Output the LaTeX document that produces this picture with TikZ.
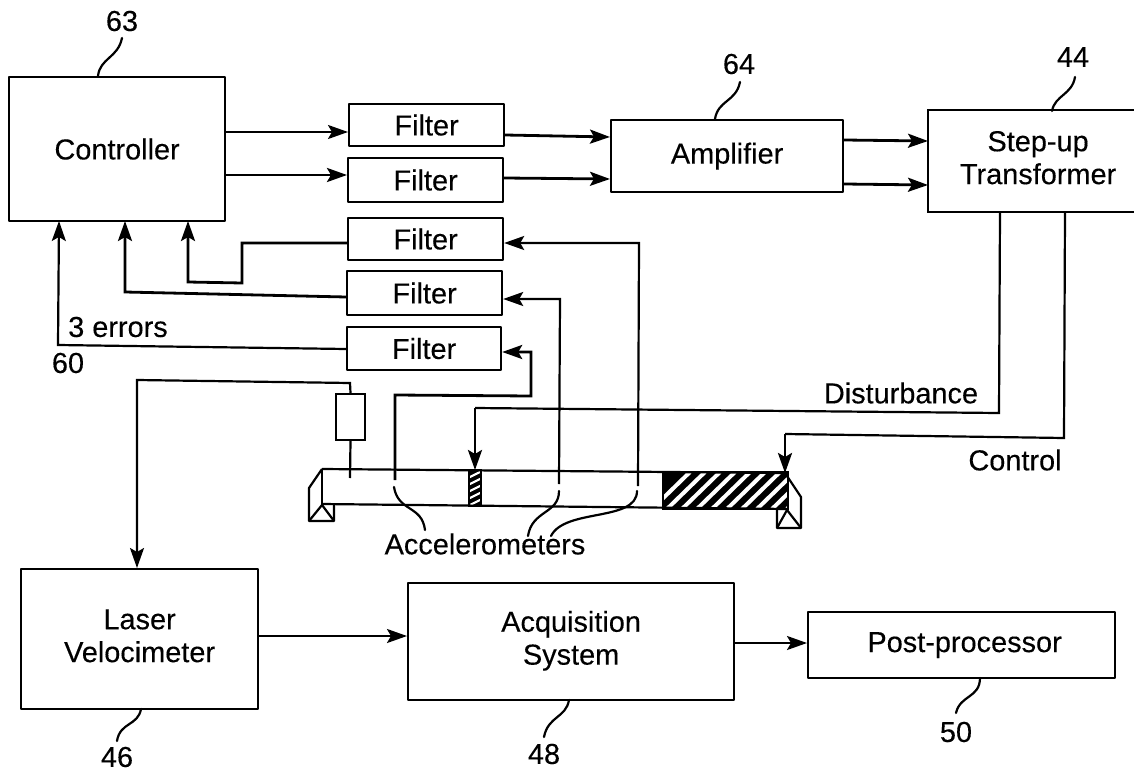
\documentclass[tikz,border=0pt]{standalone}
\usepackage{fontspec}
\setmainfont[FakeBold=0.25]{Liberation Sans}
\usetikzlibrary{arrows.meta}
\tikzset{
  tip/.style={-{Stealth[length=20bp,width=14bp,inset=4bp]}},
  box/.style={draw,line width=2.2bp,line join=round,anchor=north west,inner sep=0pt,align=center,font=\fontsize{29}{33}\selectfont},
  lbl/.style={inner sep=0pt,font=\fontsize{29}{33}\selectfont},
  wire/.style={line width=2.2bp},
  thickwire/.style={line width=2.8bp},
  lead/.style={line width=2.2bp,line cap=round},
}
\newcommand{\bx}[7][box]{\node[#1,minimum width=#5*1bp-#3*1bp,minimum height=#6*1bp-#4*1bp] (#2) at (#3,#4) {#7};}
\begin{document}
\begin{tikzpicture}[x=1bp,y=-1bp]
\useasboundingbox[fill=white] (0,0) rectangle (1134,773);
\bx{ctrl}{8}{76}{224}{220}{Controller}
\bx{fa}{348}{103}{503}{145}{Filter}
\bx{fb}{347}{157}{502}{201}{Filter}
\bx{fc}{347}{217}{502}{259}{Filter}
\bx{fd}{346}{270}{501}{314}{Filter}
\bx{fe}{346}{326}{500}{369}{Filter}
\bx{amp}{610}{119}{842}{191}{Amplifier}
\bx[box,draw=none]{tra}{928}{110}{1134}{210}{\hspace*{12bp}\begin{tabular}{@{}c@{}}Step-up\\Transformer\end{tabular}}
\draw[wire] (tra.north east) -- (tra.north west) -- (tra.south west) -- (tra.south east);
\bx{las}{20}{568}{257}{708}{\raisebox{7bp}{\begin{tabular}{@{}c@{}}Laser\\Velocimeter\end{tabular}}}
\bx{acq}{407}{582}{733}{699}{\raisebox{6bp}{\begin{tabular}{@{}c@{}}Acquisition\\System\end{tabular}}}
\bx{post}{807}{611}{1114}{677}{\hspace*{6bp}\raisebox{2bp}{Post-processor}}
% sensor box
\node[draw,line width=2bp,anchor=north west,minimum width=29bp,minimum height=46bp,inner sep=0pt] (sens) at (335,393) {};
% labels
\node[lbl] (n63) at (122,21) {63};
\node[lbl] (n64) at (739,64) {64};
\node[lbl] (n44) at (1073,57) {44};
\node[lbl] (n46) at (117,757) {46};
\node[lbl] (n48) at (544,754) {48};
\node[lbl] (n50) at (956,732) {50};
\node[lbl] (n60) at (68,363) {60};
\node[lbl] (err) at (118,327) {3 errors};
\node[lbl] (dist) at (901,393) {Disturbance};
\node[lbl] (ctl) at (1015,460) {Control};
\node[lbl] (acc) at (485,544) {Accelerometers};
% beam
\coordinate (bTL) at (322,469);
\coordinate (bTR) at (785,473);
\coordinate (bBL) at (322,504);
\coordinate (bBR) at (788,509);
% hatched regions
\begin{scope}
\clip (663,472) rectangle (788,509);
\fill (663,472) rectangle (788,509);
\foreach \i in {0,...,11} \draw[white,line width=4bp] ({652+\i*15},509) -- ({690+\i*15},472);
\end{scope}
\draw[line width=2.2bp] (663,472) rectangle (788,509);
\begin{scope}
\clip (469,470) rectangle (481,506);
\fill (469,470) rectangle (481,506);
\foreach \i in {0,...,5} \draw[white,line width=2.2bp] (466,{479+\i*7}) -- (484,{470+\i*7});
\end{scope}
\draw[line width=2bp] (469,470) rectangle (481,506);
\draw[wire] (bTL) -- (bTR) (bBL) -- (bBR);
% supports
\draw[wire,line join=round] (bTL) -- (309,488) -- (309,521) -- (334,521) -- (334,505);
\draw[wire] (bTL) -- (bBL);
\draw[wire] (309,521) -- (322,505) -- (334,521);
\draw[wire,line join=round] (bTR) -- (801,497) -- (801,528) -- (777,528) -- (777,509);
\draw[wire] (777,528) -- (787,510) -- (801,528);
% forward arrows
\draw[wire,tip] (ctrl.east |- 0,132) -- (fa.west |- 0,132);
\draw[thickwire,tip] (ctrl.east |- 0,175) -- (fb.west |- 0,175);
\draw[thickwire,tip] (fa.east |- 0,135) -- (amp.west |- 0,137);
\draw[thickwire,tip] (fb.east |- 0,178) -- (amp.west |- 0,179);
\draw[thickwire,tip] (amp.east |- 0,140) -- (tra.west |- 0,141);
\draw[thickwire,tip] (amp.east |- 0,184) -- (tra.west |- 0,185);
% feedback
\draw[thickwire,tip] (fc.west |- 0,243) -- (242,243) -- (242,283) -- (188,282) -- (188,221);
\draw[thickwire,tip] (fd.west |- 0,297) -- (125,292) -- (125,221);
\draw[wire,tip] (fe.west |- 0,349) -- (58,345) -- (59,221);
% accelerometer wires
\draw[wire,tip] (638,486) -- (639,243) -- (fc.east |- 0,243);
\draw[wire,tip] (559,484) -- (560,299) -- (fd.east |- 0,299);
\draw[thickwire,tip] (395,480) -- (395,395) -- (531,396) -- (531,352) -- (fe.east |- 0,352);
\draw[lead] (394,487) .. controls (398,512) and (422,505) .. (425,530);
\draw[lead] (559,491) .. controls (559,514) and (532,510) .. (528,536);
\draw[lead] (637,491) .. controls (637,522) and (565,508) .. (551,536);
% sensor
\draw[wire,tip] (sens.north) -- (350,383) -- (137,380) -- (137,568);
\draw[wire] (sens.south) -- (350,478);
% drive lines
\draw[wire] (tra.south west -| 1000,0) -- (999,413) -- (475,408);
\draw[thickwire,tip] (475,408) -- (475,470);
\draw[wire] (tra.south west -| 1065,0) -- (1064,438) -- (785,434);
\draw[thickwire,tip] (785,434) -- (785,473);
% bottom arrows
\draw[wire,tip] (las.east |- 0,636) -- (acq.west |- 0,636);
\draw[wire,tip] (acq.east |- 0,643) -- (post.west |- 0,643);
% leaders
\draw[lead] (122,38) .. controls (118,58) and (100,58) .. (98,76);
\draw[lead] (740,82) .. controls (736,102) and (718,100) .. (715,119);
\draw[lead] (1075,77) .. controls (1072,95) and (1055,95) .. (1052,111);
\draw[lead] (141,709) .. controls (138,726) and (120,722) .. (117,741);
\draw[lead] (569,700) .. controls (566,718) and (548,716) .. (544,737);
\draw[lead] (980,678) .. controls (980,698) and (960,695) .. (956,713);
\end{tikzpicture}
\end{document}
